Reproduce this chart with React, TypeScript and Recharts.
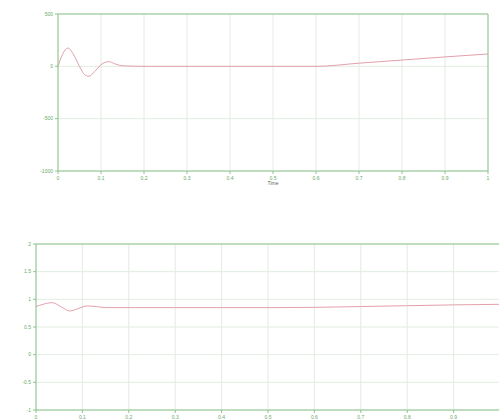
import React from 'react';
import { LineChart, Line, XAxis, YAxis, CartesianGrid, ReferenceLine } from 'recharts';

// upper response (time vs value)
const topTime = [0, 0.01, 0.023, 0.035, 0.05, 0.062, 0.072, 0.085, 0.1, 0.118, 0.135, 0.15, 0.2, 0.3, 0.4, 0.5, 0.6, 0.7, 0.8, 0.9, 1.0];
const topValue = [0, 110, 175, 120, 0, -80, -95, -50, 15, 45, 20, 5, 0, 0, 0, 0, 0, 30, 60, 90, 118];

// lower response
const bottomTime = [0, 0.015, 0.035, 0.055, 0.073, 0.09, 0.11, 0.13, 0.15, 0.3, 0.5, 0.6, 0.7, 0.8, 0.9, 1.0];
const bottomValue = [0.87, 0.91, 0.94, 0.86, 0.79, 0.83, 0.88, 0.87, 0.85, 0.85, 0.85, 0.855, 0.87, 0.885, 0.9, 0.91];

const xTicks = [0, 0.1, 0.2, 0.3, 0.4, 0.5, 0.6, 0.7, 0.8, 0.9, 1];
const bottomXTicks = [0, 0.1, 0.2, 0.3, 0.4, 0.5, 0.6, 0.7, 0.8, 0.9];
const topYTicks = [-1000, -500, 0, 500];
const bottomYTicks = [-1, -0.5, 0, 0.5, 1, 1.5, 2];

const topData = topTime.map((t, i) => ({ t, v: topValue[i] }));
const bottomData = bottomTime.map((t, i) => ({ t, v: bottomValue[i] }));

const axisColor = '#8cc48c';
const gridColor = '#e2ece2';
const lineColor = '#e2a0ac';
const tickStyle = { fontSize: 5, fill: '#6aa86a', fontFamily: 'Liberation Sans, Arial, sans-serif' };

const App = () => {
    return (
        <div style={{ position: 'absolute', left: 0, top: 0, width: 499, height: 419, overflow: 'hidden', background: '#fff' }}>
            <div style={{ position: 'absolute', left: 0, top: 0 }}>
                <LineChart width={499} height={200} data={topData} margin={{ top: 14, right: 11, left: 8, bottom: 9 }}>
                    <CartesianGrid stroke={gridColor} strokeWidth={1} />
                    <XAxis
                        dataKey="t"
                        type="number"
                        domain={[0, 1]}
                        ticks={xTicks}
                        height={20}
                        stroke={axisColor}
                        tick={tickStyle}
                        tickSize={3}
                        label={{ value: 'Time', position: 'insideBottom', offset: 6, style: { ...tickStyle, fill: '#666' } }}
                    />
                    <YAxis
                        type="number"
                        domain={[-1000, 500]}
                        ticks={topYTicks}
                        width={50}
                        stroke={axisColor}
                        tick={tickStyle}
                        tickSize={3}
                    />
                    <ReferenceLine y={500} stroke={axisColor} />
                    <ReferenceLine x={1} stroke={axisColor} />
                    <Line type="monotone" dataKey="v" stroke={lineColor} strokeWidth={1} dot={false} isAnimationActive={false} />
                </LineChart>
            </div>
            <div style={{ position: 'absolute', left: 0, top: 220 }}>
                <LineChart width={510} height={199} data={bottomData} margin={{ top: 24, right: 10, left: 6, bottom: 0 }}>
                    <CartesianGrid stroke={gridColor} strokeWidth={1} />
                    <XAxis
                        dataKey="t"
                        type="number"
                        domain={[0, 1]}
                        ticks={bottomXTicks}
                        height={9}
                        stroke={axisColor}
                        tick={tickStyle}
                        tickSize={3}
                    />
                    <YAxis
                        type="number"
                        domain={[-1, 2]}
                        ticks={bottomYTicks}
                        width={30}
                        stroke={axisColor}
                        tick={tickStyle}
                        tickSize={3}
                    />
                    <ReferenceLine y={2} stroke={axisColor} />
                    <Line type="monotone" dataKey="v" stroke={lineColor} strokeWidth={1} dot={false} isAnimationActive={false} />
                </LineChart>
            </div>
        </div>
    );
};

export default App;
